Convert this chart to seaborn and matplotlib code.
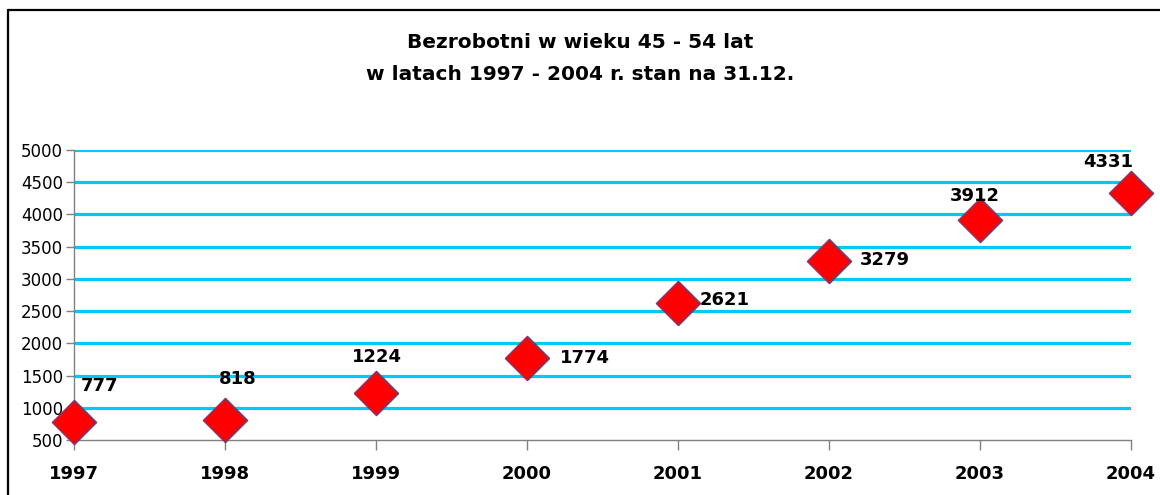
import matplotlib
matplotlib.use("Agg")
import matplotlib.pyplot as plt
import seaborn as sns
import pandas as pd
from matplotlib.lines import Line2D

years = [1997, 1998, 1999, 2000, 2001, 2002, 2003, 2004]
unemployed = [777, 818, 1224, 1774, 2621, 3279, 3912, 4331]
yticks = [500, 1000, 1500, 2000, 2500, 3000, 3500, 4000, 4500, 5000]

# label offsets in pixels relative to each marker
label_offsets = [(26, 36), (13, 41), (1, 36), (33, 0), (22, 3), (31, 1), (-5, 24), (-23, 31)]
label_align = ['center', 'center', 'center', 'left', 'left', 'left', 'center', 'center']

df = pd.DataFrame({'year': years, 'value': unemployed})

sns.set_style("white")
plt.rcParams['font.family'] = ['DejaVu Sans']
plt.rcParams['text.color'] = 'black'
plt.rcParams['xtick.labelcolor'] = 'black'
plt.rcParams['ytick.labelcolor'] = 'black'

fig = plt.figure(figsize=(11.6, 4.95), dpi=100)
ax = fig.add_axes([74 / 1160, 1 - 440 / 495, (1131 - 74) / 1160, (440 - 150) / 495])

for y in yticks[1:]:
    ax.axhline(y, color='#00C8F8', linewidth=2.3, zorder=1)

sns.scatterplot(data=df, x='year', y='value', ax=ax, marker='D', s=500,
                color='#FF0000', edgecolor='#803868', linewidth=1.2, zorder=3, clip_on=False)

for x, v, off, ha in zip(years, unemployed, label_offsets, label_align):
    ax.annotate(str(v), (x, v), xytext=off, textcoords='offset pixels',
                ha=ha, va='center', fontsize=13, fontweight='bold', color='black')

ax.set_xlim(1997, 2004)
ax.set_ylim(500, 5000)
ax.set_xticks(years)
ax.set_yticks(yticks)
ax.set_xticklabels([str(y) for y in years], fontsize=13, fontweight='bold', color='black')
ax.set_yticklabels([str(y) for y in yticks], fontsize=12, color='black')
ax.set_xlabel('')
ax.set_ylabel('')
ax.tick_params(axis='x', direction='out', length=7, width=1, color='#808080', pad=11)
ax.tick_params(axis='y', direction='out', length=6, width=1, color='#808080', pad=2)
ax.tick_params(bottom=True, left=True)

for side in ['top', 'right']:
    ax.spines[side].set_visible(False)
for side in ['left', 'bottom']:
    ax.spines[side].set_color('#808080')
    ax.spines[side].set_linewidth(1)

fig.text(580 / 1160, 1 - 43 / 495, 'Bezrobotni w wieku 45 - 54 lat', ha='center', va='center',
         fontsize=14.5, fontweight='bold', color='black')
fig.text(580 / 1160, 1 - 75 / 495, 'w latach 1997 - 2004 r. stan na 31.12.', ha='center', va='center',
         fontsize=14.5, fontweight='bold', color='black')

# outer chart frame (top and left edges visible)
fig.add_artist(Line2D([8 / 1160, 1], [1 - 10 / 495, 1 - 10 / 495], color='black', linewidth=1.6))
fig.add_artist(Line2D([8 / 1160, 8 / 1160], [0, 1 - 10 / 495], color='black', linewidth=1.6))

fig.savefig('out.png', dpi=100)
